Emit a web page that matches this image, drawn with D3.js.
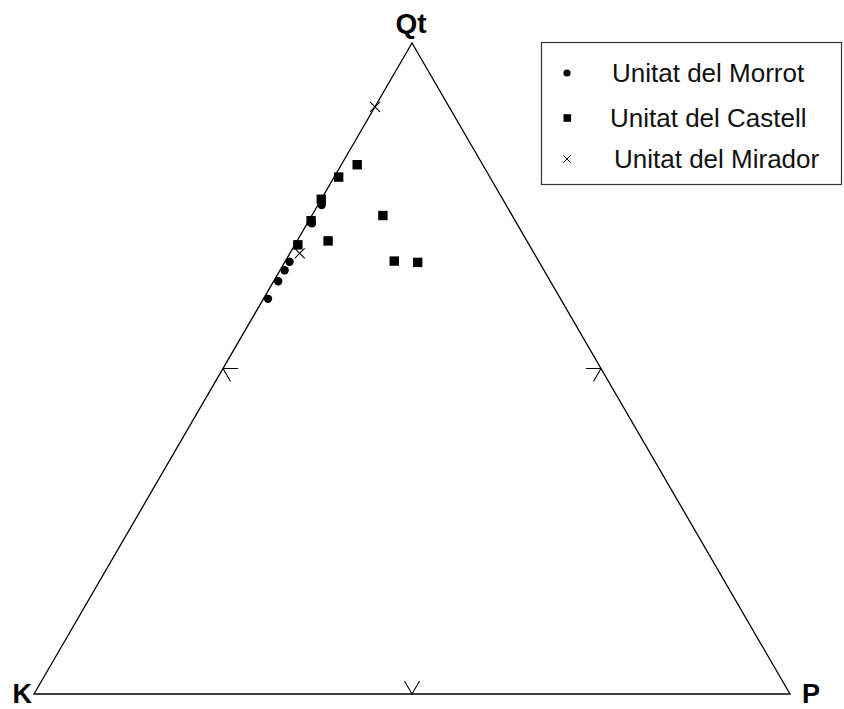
<!doctype html>
<html lang="ca">
<head>
  <meta charset="UTF-8">
  <title>Diagrama ternari Qt-K-P</title>
<style>
  body{ margin: 0; background: #fff; }
  .edge{ fill: none; stroke: #000; stroke-width: 1.3px; }
  .tick{ fill: none; stroke: #000; stroke-width: 1.1px; }
  .vertex{ font-family: "Liberation Sans", Arial, sans-serif; font-weight: bold; font-size: 28px; }
  .corner{ font-size: 27px; }
  .legend text{ font-family: "Liberation Sans", Arial, sans-serif; font-size: 26px; fill: #111; }
</style>
</head>
<body>
<script src="https://d3js.org/d3.v7.min.js"></script>
<script>
// percentages, Qt / K / P
var morrotQt = [75.1, 72.3, 66.4, 65.1, 63.4, 60.7],
    morrotK  = [24.4, 27.1, 33.0, 34.3, 36.0, 38.7],
    morrotP  = [0.5, 0.6, 0.6, 0.6, 0.6, 0.6];

var castellQt = [81.3, 79.4, 76.0, 72.7, 73.5, 69.6, 69.0, 66.5, 66.3],
    castellK  = [16.6, 20.0, 24.0, 27.0, 17.1, 26.3, 30.6, 19.1, 16.1],
    castellP  = [2.1, 0.6, 0.0, 0.3, 9.4, 4.1, 0.4, 14.4, 17.6];

var miradorQt = [90.2, 67.7],
    miradorK  = [9.8, 31.0],
    miradorP  = [0.0, 1.3];

var vertexLabels = ["Qt", "K", "P"];
var seriesNames = ["Unitat del Morrot", "Unitat del Castell", "Unitat del Mirador"];
var tickValue = 50;

var width = 844, height = 709;

var xScale = d3.scaleLinear().domain([0, 100]).range([34, 790]);
var yScale = d3.scaleLinear().domain([0, 100]).range([694, 43]);

function px(d){ return xScale(d.p + d.qt / 2); }
function py(d){ return yScale(d.qt); }

function rows(qt, k, p){
  return qt.map(function(v, i){ return {qt: v, k: k[i], p: p[i]}; });
}

var morrot = rows(morrotQt, morrotK, morrotP),
    castell = rows(castellQt, castellK, castellP),
    mirador = rows(miradorQt, miradorK, miradorP);

var svg = d3.select("body").append("svg")
    .attr("width", width)
    .attr("height", height);

// triangle
var corners = [{qt: 100, k: 0, p: 0}, {qt: 0, k: 100, p: 0}, {qt: 0, k: 0, p: 100}];
svg.append("path")
    .attr("class", "edge")
    .attr("d", d3.line().x(px).y(py)(corners) + "Z");

// 50% arrows on each edge
var arm = 15, c60 = Math.cos(Math.PI / 3) * arm, s60 = Math.sin(Math.PI / 3) * arm;
var ticks = [
  {pt: {qt: tickValue, k: 100 - tickValue, p: 0}, a: [arm, 0], b: [c60, s60]},
  {pt: {qt: tickValue, k: 0, p: 100 - tickValue}, a: [-arm, 0], b: [-c60, s60]},
  {pt: {qt: 0, k: tickValue, p: 100 - tickValue}, a: [-c60, -s60], b: [c60, -s60]}
];
svg.selectAll(".tick").data(ticks).enter().append("path")
    .attr("class", "tick")
    .attr("d", function(d){
      var x = px(d.pt), y = py(d.pt);
      return "M" + (x + d.a[0]) + "," + (y + d.a[1]) + "L" + x + "," + y +
             "L" + (x + d.b[0]) + "," + (y + d.b[1]);
    });

// vertex labels
svg.append("text").attr("class", "vertex")
    .attr("x", px(corners[0]) - 1).attr("y", 33)
    .attr("text-anchor", "middle").text(vertexLabels[0]);
svg.append("text").attr("class", "vertex corner")
    .attr("x", px(corners[1]) - 2).attr("y", 703)
    .attr("text-anchor", "end").text(vertexLabels[1]);
svg.append("text").attr("class", "vertex corner")
    .attr("x", px(corners[2]) + 12).attr("y", 703)
    .attr("text-anchor", "start").text(vertexLabels[2]);

function crossPath(s){
  return "M" + (-s) + "," + (-s) + "L" + s + "," + s + "M" + (-s) + "," + s + "L" + s + "," + (-s);
}

// data points
svg.selectAll(".morrot").data(morrot).enter().append("circle")
    .attr("class", "morrot")
    .attr("cx", px).attr("cy", py)
    .attr("r", 4.2)
    .attr("fill", "#000");

svg.selectAll(".castell").data(castell).enter().append("rect")
    .attr("class", "castell")
    .attr("x", function(d){ return px(d) - 4.7; })
    .attr("y", function(d){ return py(d) - 4.7; })
    .attr("width", 9.4).attr("height", 9.4)
    .attr("fill", "#000");

svg.selectAll(".mirador").data(mirador).enter().append("path")
    .attr("class", "mirador")
    .attr("transform", function(d){ return "translate(" + px(d) + "," + py(d) + ")"; })
    .attr("d", crossPath(5))
    .attr("fill", "none").attr("stroke", "#000").attr("stroke-width", 1.1);

// legend
var legend = svg.append("g").attr("class", "legend");
legend.append("rect")
    .attr("x", 541.5).attr("y", 42.5)
    .attr("width", 300).attr("height", 142)
    .attr("fill", "#fff").attr("stroke", "#333").attr("stroke-width", 1.2);

var legendY = [73, 118, 159], legendTextX = [612, 610, 614], legendBase = [82, 127, 168];

legend.append("circle").attr("cx", 567).attr("cy", legendY[0]).attr("r", 3.6).attr("fill", "#000");
legend.append("rect").attr("x", 563.5).attr("y", legendY[1] - 3.8)
    .attr("width", 7.6).attr("height", 7.6).attr("fill", "#000");
legend.append("path").attr("transform", "translate(567," + legendY[2] + ")")
    .attr("d", crossPath(3.6))
    .attr("fill", "none").attr("stroke", "#000").attr("stroke-width", 1);

legend.selectAll("text").data(seriesNames).enter().append("text")
    .attr("x", function(d, i){ return legendTextX[i]; })
    .attr("y", function(d, i){ return legendBase[i]; })
    .text(function(d){ return d; });
</script>
</body>
</html>
